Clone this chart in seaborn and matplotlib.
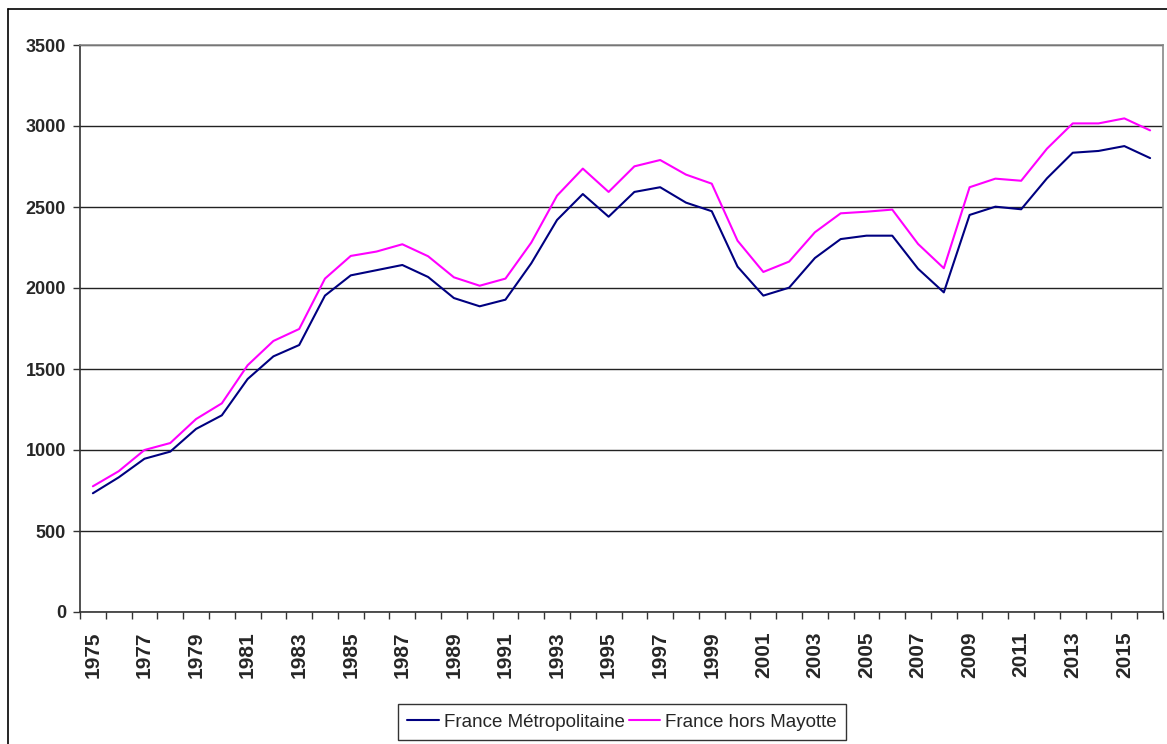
import numpy as np
import pandas as pd
import matplotlib
matplotlib.use("Agg")
import matplotlib.pyplot as plt
from matplotlib.lines import Line2D
import seaborn as sns

annees = list(range(1975, 2017))
metropole = [733, 831, 946, 990, 1130, 1214, 1438, 1578, 1648, 1953,
             2078, 2110, 2142, 2068, 1938, 1887, 1928, 2152, 2420, 2580,
             2440, 2593, 2622, 2527, 2474, 2132, 1953, 2002, 2185, 2302,
             2323, 2323, 2119, 1973, 2451, 2502, 2486, 2677, 2835, 2846,
             2876, 2802]
hors_mayotte = [776, 869, 1000, 1043, 1191, 1288, 1523, 1673, 1747, 2058,
                2198, 2225, 2270, 2196, 2066, 2014, 2058, 2280, 2570, 2737,
                2593, 2751, 2790, 2700, 2644, 2292, 2099, 2163, 2344, 2461,
                2471, 2484, 2272, 2122, 2622, 2675, 2662, 2860, 3016, 3016,
                3047, 2973]
series = ["France Métropolitaine", "France hors Mayotte"]
couleurs = {"France Métropolitaine": "#000080", "France hors Mayotte": "#FF00FF"}

n = len(annees)
df = pd.DataFrame({
    "pos": list(range(n)) * 2,
    "valeur": metropole + hors_mayotte,
    "serie": [series[0]] * n + [series[1]] * n,
})

sns.set_style("white")
plt.rcParams["font.family"] = ["Liberation Sans", "DejaVu Sans"]

fig = plt.figure(figsize=(11.67, 7.44), dpi=100)
ax = fig.add_axes([80 / 1167, 132 / 744, 1083 / 1167, 567 / 744])

sns.lineplot(data=df, x="pos", y="valeur", hue="serie", palette=couleurs,
             linewidth=1.5, ax=ax, legend=False)

ax.set_xlim(-0.5, n - 0.5)
ax.set_ylim(0, 3500)
ax.set_yticks(range(0, 3501, 500))
ax.set_yticklabels([str(v) for v in range(0, 3501, 500)],
                   fontsize=13, fontweight="bold")
ax.yaxis.grid(True, color="#222222", linewidth=1)
ax.set_axisbelow(True)

# ticks between categories, labels on every other year
ax.set_xticks(np.arange(-0.5, n, 1.0))
ax.set_xticklabels([])
ax.set_xticks(range(0, n, 2), minor=True)
ax.set_xticklabels([str(a) for a in annees[::2]], minor=True, rotation=90,
                   fontsize=15, fontweight="bold")
ax.tick_params(axis="x", which="major", direction="out", length=5,
               width=1, color="#333333", bottom=True)
ax.tick_params(axis="x", which="minor", length=0, pad=14)
ax.tick_params(axis="y", direction="out", length=5, width=1,
               color="#333333", left=True, pad=5)
ax.set_xlabel("")
ax.set_ylabel("")

for cote in ["top", "right"]:
    ax.spines[cote].set_color("#888888")
    ax.spines[cote].set_linewidth(1.2)
for cote in ["left", "bottom"]:
    ax.spines[cote].set_color("#333333")
    ax.spines[cote].set_linewidth(1.2)

poignees = [Line2D([0], [0], color=couleurs[s], linewidth=1.5) for s in series]
leg = fig.legend(poignees, series, loc="center", ncol=2,
                 bbox_to_anchor=(622 / 1167, 22 / 744), frameon=True,
                 fancybox=False, edgecolor="black", fontsize=13.5,
                 handlelength=1.7, handletextpad=0.25, columnspacing=0.2,
                 borderpad=0.5, borderaxespad=0)
leg.get_frame().set_linewidth(1)

# cadre exterieur du graphique
fig.add_artist(Line2D([8 / 1167, 8 / 1167], [0, 1 - 9 / 744],
                      transform=fig.transFigure, color="black", linewidth=1.2))
fig.add_artist(Line2D([8 / 1167, 1], [1 - 9 / 744, 1 - 9 / 744],
                      transform=fig.transFigure, color="black", linewidth=1.2))

fig.savefig("out.png", dpi=100, facecolor="white")
